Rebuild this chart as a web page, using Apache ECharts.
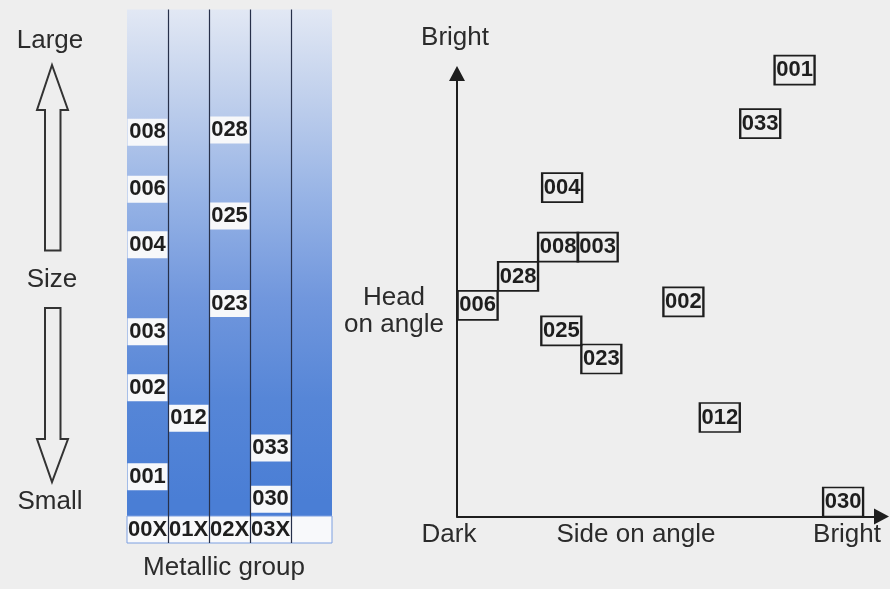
<!DOCTYPE html>
<html>
<head>
<meta charset="utf-8">
<script src="https://cdn.jsdelivr.net/npm/echarts@6/dist/echarts.min.js"></script>
<style>
html,body{margin:0;padding:0;background:#eeeeee;}
#c{width:890px;height:589px;}
</style>
</head>
<body>
<div id="c"></div>
<script>
// ---- Data: left panel (size by metallic group) ----
const groups = ['00X', '01X', '02X', '03X', ''];
const sizeCodes  = ['008', '006', '004', '003', '002', '001', '012', '028', '025', '023', '033', '030'];
const sizeGroup  = ['00X', '00X', '00X', '00X', '00X', '00X', '01X', '02X', '02X', '02X', '03X', '03X'];
const sizeValues = [77.0, 66.3, 55.9, 39.6, 29.1, 12.4, 23.4, 77.4, 61.3, 44.9, 17.8, 8.2];

// ---- Data: right panel (brightness) ----
const angleCodes = ['001', '033', '004', '008', '003', '028', '006', '002', '025', '023', '012', '030'];
const sideBright = [8.35, 7.5, 2.6, 2.5, 3.48, 1.51, 0.51, 5.6, 2.58, 3.57, 6.5, 9.55];
const headBright = [15.42, 13.57, 11.36, 9.3, 9.3, 8.29, 7.29, 7.41, 6.41, 5.44, 3.42, 0.5];

const FONT = '"Liberation Sans", Arial, Helvetica, sans-serif';
const TXT = '#2b2b2b';
const LINE = '#27304a';

const chart = echarts.init(document.getElementById('c'), null, {renderer: 'canvas'});

const sizeData = sizeCodes.map((c, i) => ({name: c, value: [sizeGroup[i], sizeValues[i]]}));
const angleData = angleCodes.map((c, i) => ({name: c, value: [sideBright[i], headBright[i]]}));

function txt(text, x, y, extra) {
  return Object.assign({
    type: 'text', x: x, y: y, z: 10,
    style: {text: text, fill: TXT, fontSize: 26, fontFamily: FONT, align: 'center', verticalAlign: 'middle'}
  }, extra || {});
}

const option = {
  backgroundColor: '#eeeeee',
  animation: false,
  grid: [
    {
      left: 127, top: 9.5, width: 205, bottom: 46,
      show: true, borderWidth: 0,
      backgroundColor: new echarts.graphic.LinearGradient(0, 0, 0, 1, [
        {offset: 0, color: '#e2e8f4'},
        {offset: 0.17, color: '#bfcfec'},
        {offset: 0.36, color: '#95b2e5'},
        {offset: 0.54, color: '#7197dd'},
        {offset: 0.73, color: '#5686d7'},
        {offset: 0.92, color: '#4a7ed5'},
        {offset: 1, color: '#4a7ed5'}
      ])
    },
    {left: 457, right: 8.5, top: 73.5, bottom: 72.5}
  ],
  xAxis: [
    {
      gridIndex: 0, type: 'category', data: groups, z: 5,
      axisLine: {show: false}, axisTick: {show: false},
      axisLabel: {
        interval: 0, margin: -13.5, verticalAlign: 'middle',
        color: '#1e1e1e', fontSize: 22, fontWeight: 'bold', fontFamily: FONT
      },
      splitLine: {
        show: true, interval: 0,
        lineStyle: {color: ['rgba(0,0,0,0)', LINE, LINE, LINE, LINE, 'rgba(0,0,0,0)'], width: 1.2}
      }
    },
    {
      gridIndex: 1, type: 'value', min: 0, max: 10.5,
      axisLine: {show: true, onZero: false, symbol: ['none', 'triangle'], symbolSize: [16, 15],
        lineStyle: {color: '#1e1e1e', width: 2}},
      axisTick: {show: false}, axisLabel: {show: false}, splitLine: {show: false}
    }
  ],
  yAxis: [
    {gridIndex: 0, type: 'value', min: 0, max: 100, show: false},
    {
      gridIndex: 1, type: 'value', min: 0, max: 15.3,
      axisLine: {show: true, onZero: false, symbol: ['none', 'triangle'], symbolSize: [16, 15],
        lineStyle: {color: '#1e1e1e', width: 2}},
      axisTick: {show: false}, axisLabel: {show: false}, splitLine: {show: false}
    }
  ],
  series: [
    {
      type: 'scatter', xAxisIndex: 0, yAxisIndex: 0, data: sizeData,
      symbol: 'rect', symbolSize: [40, 27], clip: false,
      itemStyle: {color: '#f7f8fa', opacity: 1},
      emphasis: {disabled: true},
      label: {show: true, position: 'inside', formatter: '{b}', color: '#1e1e1e',
        fontSize: 22, fontWeight: 'bold', fontFamily: FONT}
    },
    {
      type: 'scatter', xAxisIndex: 1, yAxisIndex: 1, data: angleData,
      symbol: 'rect', symbolSize: [40, 29], clip: false,
      itemStyle: {color: 'rgba(238,238,238,0)', borderColor: '#1e1e1e', borderWidth: 2, opacity: 1},
      emphasis: {disabled: true},
      label: {show: true, position: 'inside', formatter: '{b}', color: '#1e1e1e',
        fontSize: 22, fontWeight: 'bold', fontFamily: FONT}
    }
  ],
  graphic: [
    // label row background of the metallic-group strip
    {type: 'rect', z: 1, shape: {x: 127, y: 516, width: 205, height: 27},
      style: {fill: '#f8f9fb', stroke: '#7d9fe0', lineWidth: 1}},
    // size arrows
    {type: 'polygon', z: 10,
      shape: {points: [[52, 65], [68, 110], [60.5, 110], [60.5, 250.5], [45, 250.5], [45, 110], [37, 110]]},
      style: {fill: 'rgba(0,0,0,0)', stroke: '#333', lineWidth: 2}},
    {type: 'polygon', z: 10,
      shape: {points: [[45, 308], [60.5, 308], [60.5, 439], [68, 439], [52, 482], [37, 439], [45, 439]]},
      style: {fill: 'rgba(0,0,0,0)', stroke: '#333', lineWidth: 2}},
    txt('Large', 50, 41),
    txt('Size', 52, 280),
    txt('Small', 50, 502),
    txt('Metallic group', 224, 568),
    txt('Bright', 455, 38),
    txt('Head\non angle', 394, 311, {style: {text: 'Head\non angle', fill: TXT, fontSize: 26, lineHeight: 27,
      fontFamily: FONT, align: 'center', verticalAlign: 'middle'}}),
    txt('Dark', 449, 535),
    txt('Side on angle', 636, 535),
    txt('Bright', 847, 535)
  ]
};

chart.setOption(option);
</script>
</body>
</html>
